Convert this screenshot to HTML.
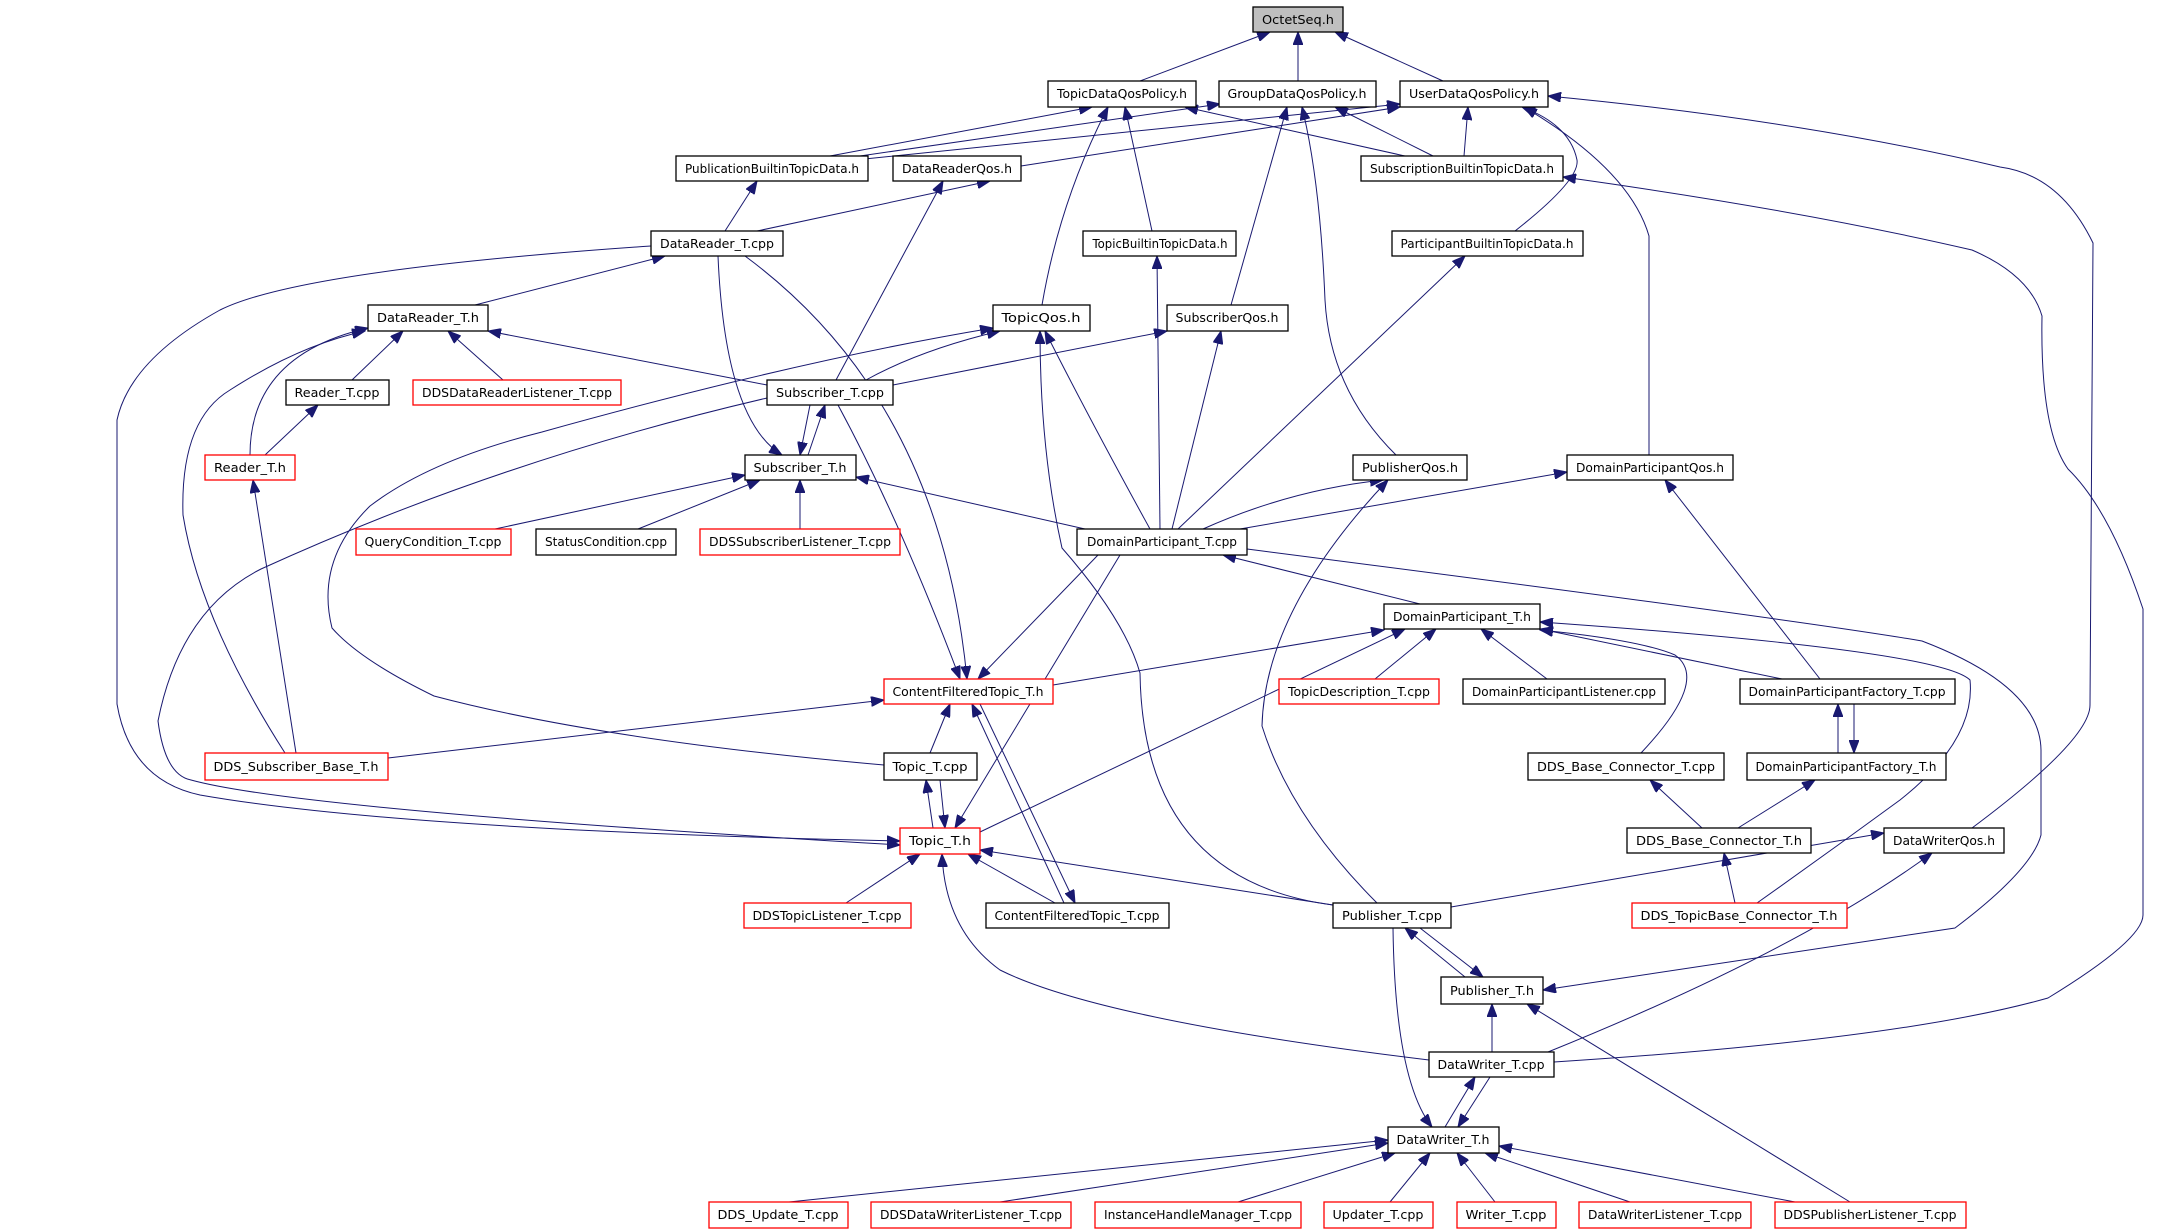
<!DOCTYPE html>
<html><head><meta charset="utf-8"><style>
html,body{margin:0;padding:0;background:#fff;}
svg{display:block;}
text{font-family:"DejaVu Sans","Liberation Sans",sans-serif;font-size:12px;fill:#000;}
.e{fill:none;stroke:#191970;stroke-width:1;}
.b{fill:#fff;stroke:#000;stroke-width:1.3;}
.r{fill:#fff;stroke:#ff0000;stroke-width:1.3;}
</style></head><body>
<svg width="2161" height="1232" viewBox="0 0 2161 1232" xmlns="http://www.w3.org/2000/svg">
<defs><marker id="a" markerUnits="userSpaceOnUse" markerWidth="14" markerHeight="10" refX="13" refY="5" orient="auto"><path d="M0,0 L13,5 L0,10 z" fill="#191970" stroke="#191970"/></marker></defs>
<g class="e" marker-end="url(#a)">
<path d="M1140,81 L1270,32"/>
<path d="M1298,81 L1298,32"/>
<path d="M1443,81 L1335,32"/>
<path d="M830,156 L1092,107"/>
<path d="M860,156 L1220,104"/>
<path d="M855,160 L1400,104"/>
<path d="M1021,166 L1400,107"/>
<path d="M1405,156 L1185,107"/>
<path d="M1433,156 L1335,107"/>
<path d="M1464,156 L1468,107"/>
<path d="M1152,231 L1125,107"/>
<path d="M1042,305 Q1060,200 1108,107"/>
<path d="M1231,305 L1287,107"/>
<path d="M1396,455 Q1330,390 1325,300 Q1320,180 1302,107"/>
<path d="M1515,231 Q1580,180 1577,160 Q1570,125 1522,107"/>
<path d="M1649,455 L1649,236 Q1630,170 1524,107"/>
<path d="M1972,828 Q2090,740 2090,705 L2093,243 Q2060,175 2000,167 Q1800,120 1548,96"/>
<path d="M1554,1062 Q1900,1040 2048,998 Q2143,940 2143,915 L2143,609 Q2110,510 2068,469 Q2040,430 2042,316 Q2030,275 1972,250 Q1800,210 1563,177"/>
<path d="M725,231 L757,181"/>
<path d="M757,231 L990,181"/>
<path d="M836,380 L943,181"/>
<path d="M475,305 L665,256"/>
<path d="M651,246 Q300,270 220,310 Q130,360 117,420 L117,704 Q130,780 200,795 Q400,830 900,841"/>
<path d="M718,256 Q725,420 782,455"/>
<path d="M745,256 Q940,400 967,679"/>
<path d="M352,380 L403,331"/>
<path d="M503,380 L448,331"/>
<path d="M767,385 L488,331"/>
<path d="M250,455 Q250,355 368,328"/>
<path d="M285,753 Q200,620 183,515 Q180,420 230,390 Q300,345 365,331"/>
<path d="M265,455 L318,405"/>
<path d="M296,753 L253,480"/>
<path d="M866,380 Q920,350 1000,331"/>
<path d="M893,385 L1167,331"/>
<path d="M1150,529 Q1090,420 1045,331"/>
<path d="M1160,529 L1157,256"/>
<path d="M1172,529 L1221,331"/>
<path d="M1178,529 L1465,256"/>
<path d="M1203,529 Q1290,490 1383,480"/>
<path d="M1240,529 L1567,472"/>
<path d="M1377,903 Q1290,816 1262,726 Q1265,610 1388,480"/>
<path d="M884,765 Q600,740 434,696 Q360,660 332,628 Q315,560 370,506 Q430,460 542,432 Q800,360 993,328"/>
<path d="M1333,905 Q1143,880 1140,673 Q1125,620 1062,548 Q1040,450 1040,331"/>
<path d="M810,405 L800,455"/>
<path d="M808,455 L825,405"/>
<path d="M838,405 Q900,520 960,679"/>
<path d="M767,398 Q500,460 261,569 Q180,610 158,721 Q165,775 191,780 Q300,810 900,845"/>
<path d="M495,529 L745,475"/>
<path d="M638,529 L760,480"/>
<path d="M800,529 L800,480"/>
<path d="M1085,529 L856,477"/>
<path d="M1420,604 L1223,555"/>
<path d="M1098,555 L978,679"/>
<path d="M1120,555 L955,828"/>
<path d="M1247,549 Q1800,620 1922,641 Q2040,686 2041,750 L2041,835 Q2032,870 1955,928 L1543,990"/>
<path d="M1053,685 L1384,630"/>
<path d="M980,832 L1405,629"/>
<path d="M1375,679 L1436,629"/>
<path d="M1547,679 L1481,629"/>
<path d="M1782,679 L1540,629"/>
<path d="M1641,753 Q1710,680 1675,655 Q1640,640 1540,630"/>
<path d="M1757,903 Q1829,852 1900,800 Q1976,740 1970,680 Q1940,650 1540,622"/>
<path d="M1820,679 L1665,480"/>
<path d="M1854,704 L1854,753"/>
<path d="M1838,753 L1838,704"/>
<path d="M1702,828 L1650,780"/>
<path d="M1738,828 L1815,780"/>
<path d="M1735,903 L1724,853"/>
<path d="M1451,907 L1884,833"/>
<path d="M1548,1052 Q1800,950 1932,853"/>
<path d="M388,758 L884,700"/>
<path d="M930,753 L950,704"/>
<path d="M1064,903 L972,704"/>
<path d="M980,704 L1075,903"/>
<path d="M933,828 L926,780"/>
<path d="M940,780 L945,828"/>
<path d="M846,903 L920,854"/>
<path d="M1055,903 L968,854"/>
<path d="M1333,905 L980,850"/>
<path d="M1429,1060 Q1100,1020 1000,970 Q945,930 942,854"/>
<path d="M1420,928 L1483,977"/>
<path d="M1465,977 L1405,928"/>
<path d="M1393,928 Q1395,1080 1432,1127"/>
<path d="M1492,1052 L1492,1004"/>
<path d="M1850,1202 L1527,1004"/>
<path d="M1490,1077 L1458,1127"/>
<path d="M1445,1127 L1475,1077"/>
<path d="M789,1202 L1388,1140"/>
<path d="M1000,1202 L1388,1143"/>
<path d="M1238,1202 L1395,1153"/>
<path d="M1390,1202 L1430,1153"/>
<path d="M1495,1202 L1457,1153"/>
<path d="M1630,1202 L1485,1153"/>
<path d="M1795,1202 L1499,1146"/>
</g>
<g id="nodes">
<rect x="1253" y="7" width="90" height="25" fill="#bfbfbf" stroke="#000" stroke-width="1.3"/><text x="1298" y="24" text-anchor="middle" textLength="72" lengthAdjust="spacingAndGlyphs">OctetSeq.h</text>
<rect class="b" x="1048" y="81" width="148" height="26"/><text x="1122" y="98" text-anchor="middle" textLength="130" lengthAdjust="spacingAndGlyphs">TopicDataQosPolicy.h</text>
<rect class="b" x="1219" y="81" width="157" height="26"/><text x="1297" y="98" text-anchor="middle" textLength="139" lengthAdjust="spacingAndGlyphs">GroupDataQosPolicy.h</text>
<rect class="b" x="1400" y="81" width="148" height="26"/><text x="1474" y="98" text-anchor="middle" textLength="130" lengthAdjust="spacingAndGlyphs">UserDataQosPolicy.h</text>
<rect class="b" x="676" y="156" width="192" height="25"/><text x="772" y="173" text-anchor="middle" textLength="174" lengthAdjust="spacingAndGlyphs">PublicationBuiltinTopicData.h</text>
<rect class="b" x="893" y="156" width="128" height="25"/><text x="957" y="173" text-anchor="middle" textLength="110" lengthAdjust="spacingAndGlyphs">DataReaderQos.h</text>
<rect class="b" x="1361" y="156" width="202" height="25"/><text x="1462" y="173" text-anchor="middle" textLength="184" lengthAdjust="spacingAndGlyphs">SubscriptionBuiltinTopicData.h</text>
<rect class="b" x="651" y="231" width="132" height="25"/><text x="717" y="248" text-anchor="middle" textLength="114" lengthAdjust="spacingAndGlyphs">DataReader_T.cpp</text>
<rect class="b" x="1083" y="231" width="153" height="25"/><text x="1160" y="248" text-anchor="middle" textLength="135" lengthAdjust="spacingAndGlyphs">TopicBuiltinTopicData.h</text>
<rect class="b" x="1392" y="231" width="191" height="25"/><text x="1487" y="248" text-anchor="middle" textLength="173" lengthAdjust="spacingAndGlyphs">ParticipantBuiltinTopicData.h</text>
<rect class="b" x="368" y="305" width="120" height="26"/><text x="428" y="322" text-anchor="middle" textLength="102" lengthAdjust="spacingAndGlyphs">DataReader_T.h</text>
<rect class="b" x="993" y="305" width="97" height="26"/><text x="1041" y="322" text-anchor="middle" textLength="79" lengthAdjust="spacingAndGlyphs">TopicQos.h</text>
<rect class="b" x="1167" y="305" width="121" height="26"/><text x="1227" y="322" text-anchor="middle" textLength="103" lengthAdjust="spacingAndGlyphs">SubscriberQos.h</text>
<rect class="b" x="286" y="380" width="103" height="25"/><text x="337" y="397" text-anchor="middle" textLength="85" lengthAdjust="spacingAndGlyphs">Reader_T.cpp</text>
<rect class="r" x="413" y="380" width="208" height="25"/><text x="517" y="397" text-anchor="middle" textLength="190" lengthAdjust="spacingAndGlyphs">DDSDataReaderListener_T.cpp</text>
<rect class="b" x="767" y="380" width="126" height="25"/><text x="830" y="397" text-anchor="middle" textLength="108" lengthAdjust="spacingAndGlyphs">Subscriber_T.cpp</text>
<rect class="r" x="205" y="455" width="90" height="25"/><text x="250" y="472" text-anchor="middle" textLength="72" lengthAdjust="spacingAndGlyphs">Reader_T.h</text>
<rect class="b" x="745" y="455" width="111" height="25"/><text x="800" y="472" text-anchor="middle" textLength="93" lengthAdjust="spacingAndGlyphs">Subscriber_T.h</text>
<rect class="b" x="1353" y="455" width="114" height="25"/><text x="1410" y="472" text-anchor="middle" textLength="96" lengthAdjust="spacingAndGlyphs">PublisherQos.h</text>
<rect class="b" x="1567" y="455" width="166" height="25"/><text x="1650" y="472" text-anchor="middle" textLength="148" lengthAdjust="spacingAndGlyphs">DomainParticipantQos.h</text>
<rect class="r" x="356" y="529" width="155" height="26"/><text x="433" y="546" text-anchor="middle" textLength="137" lengthAdjust="spacingAndGlyphs">QueryCondition_T.cpp</text>
<rect class="b" x="536" y="529" width="140" height="26"/><text x="606" y="546" text-anchor="middle" textLength="122" lengthAdjust="spacingAndGlyphs">StatusCondition.cpp</text>
<rect class="r" x="700" y="529" width="200" height="26"/><text x="800" y="546" text-anchor="middle" textLength="182" lengthAdjust="spacingAndGlyphs">DDSSubscriberListener_T.cpp</text>
<rect class="b" x="1077" y="529" width="170" height="26"/><text x="1162" y="546" text-anchor="middle" textLength="150" lengthAdjust="spacingAndGlyphs">DomainParticipant_T.cpp</text>
<rect class="b" x="1384" y="604" width="156" height="25"/><text x="1462" y="621" text-anchor="middle" textLength="138" lengthAdjust="spacingAndGlyphs">DomainParticipant_T.h</text>
<rect class="r" x="884" y="679" width="169" height="25"/><text x="968" y="696" text-anchor="middle" textLength="151" lengthAdjust="spacingAndGlyphs">ContentFilteredTopic_T.h</text>
<rect class="r" x="1279" y="679" width="160" height="25"/><text x="1359" y="696" text-anchor="middle" textLength="142" lengthAdjust="spacingAndGlyphs">TopicDescription_T.cpp</text>
<rect class="b" x="1463" y="679" width="202" height="25"/><text x="1564" y="696" text-anchor="middle" textLength="184" lengthAdjust="spacingAndGlyphs">DomainParticipantListener.cpp</text>
<rect class="b" x="1740" y="679" width="215" height="25"/><text x="1847" y="696" text-anchor="middle" textLength="197" lengthAdjust="spacingAndGlyphs">DomainParticipantFactory_T.cpp</text>
<rect class="r" x="205" y="753" width="183" height="27"/><text x="296" y="771" text-anchor="middle" textLength="165" lengthAdjust="spacingAndGlyphs">DDS_Subscriber_Base_T.h</text>
<rect class="b" x="884" y="753" width="93" height="27"/><text x="930" y="771" text-anchor="middle" textLength="75" lengthAdjust="spacingAndGlyphs">Topic_T.cpp</text>
<rect class="b" x="1528" y="753" width="196" height="27"/><text x="1626" y="771" text-anchor="middle" textLength="178" lengthAdjust="spacingAndGlyphs">DDS_Base_Connector_T.cpp</text>
<rect class="b" x="1747" y="753" width="199" height="27"/><text x="1846" y="771" text-anchor="middle" textLength="181" lengthAdjust="spacingAndGlyphs">DomainParticipantFactory_T.h</text>
<rect class="r" x="900" y="828" width="80" height="26"/><text x="940" y="845" text-anchor="middle" textLength="62" lengthAdjust="spacingAndGlyphs">Topic_T.h</text>
<rect class="b" x="1627" y="828" width="184" height="25"/><text x="1719" y="845" text-anchor="middle" textLength="166" lengthAdjust="spacingAndGlyphs">DDS_Base_Connector_T.h</text>
<rect class="b" x="1884" y="828" width="120" height="25"/><text x="1944" y="845" text-anchor="middle" textLength="102" lengthAdjust="spacingAndGlyphs">DataWriterQos.h</text>
<rect class="r" x="744" y="903" width="167" height="25"/><text x="827" y="920" text-anchor="middle" textLength="149" lengthAdjust="spacingAndGlyphs">DDSTopicListener_T.cpp</text>
<rect class="b" x="986" y="903" width="183" height="25"/><text x="1077" y="920" text-anchor="middle" textLength="165" lengthAdjust="spacingAndGlyphs">ContentFilteredTopic_T.cpp</text>
<rect class="b" x="1333" y="903" width="118" height="25"/><text x="1392" y="920" text-anchor="middle" textLength="100" lengthAdjust="spacingAndGlyphs">Publisher_T.cpp</text>
<rect class="r" x="1632" y="903" width="215" height="25"/><text x="1739" y="920" text-anchor="middle" textLength="197" lengthAdjust="spacingAndGlyphs">DDS_TopicBase_Connector_T.h</text>
<rect class="b" x="1441" y="977" width="102" height="27"/><text x="1492" y="995" text-anchor="middle" textLength="84" lengthAdjust="spacingAndGlyphs">Publisher_T.h</text>
<rect class="b" x="1429" y="1052" width="125" height="25"/><text x="1491" y="1069" text-anchor="middle" textLength="107" lengthAdjust="spacingAndGlyphs">DataWriter_T.cpp</text>
<rect class="b" x="1388" y="1127" width="111" height="26"/><text x="1443" y="1144" text-anchor="middle" textLength="93" lengthAdjust="spacingAndGlyphs">DataWriter_T.h</text>
<rect class="r" x="709" y="1202" width="139" height="26"/><text x="778" y="1219" text-anchor="middle" textLength="121" lengthAdjust="spacingAndGlyphs">DDS_Update_T.cpp</text>
<rect class="r" x="871" y="1202" width="200" height="26"/><text x="971" y="1219" text-anchor="middle" textLength="182" lengthAdjust="spacingAndGlyphs">DDSDataWriterListener_T.cpp</text>
<rect class="r" x="1095" y="1202" width="206" height="26"/><text x="1198" y="1219" text-anchor="middle" textLength="188" lengthAdjust="spacingAndGlyphs">InstanceHandleManager_T.cpp</text>
<rect class="r" x="1324" y="1202" width="109" height="26"/><text x="1378" y="1219" text-anchor="middle" textLength="91" lengthAdjust="spacingAndGlyphs">Updater_T.cpp</text>
<rect class="r" x="1457" y="1202" width="99" height="26"/><text x="1506" y="1219" text-anchor="middle" textLength="81" lengthAdjust="spacingAndGlyphs">Writer_T.cpp</text>
<rect class="r" x="1579" y="1202" width="172" height="26"/><text x="1665" y="1219" text-anchor="middle" textLength="154" lengthAdjust="spacingAndGlyphs">DataWriterListener_T.cpp</text>
<rect class="r" x="1775" y="1202" width="191" height="26"/><text x="1870" y="1219" text-anchor="middle" textLength="173" lengthAdjust="spacingAndGlyphs">DDSPublisherListener_T.cpp</text>
</g>
</svg>
</body></html>
